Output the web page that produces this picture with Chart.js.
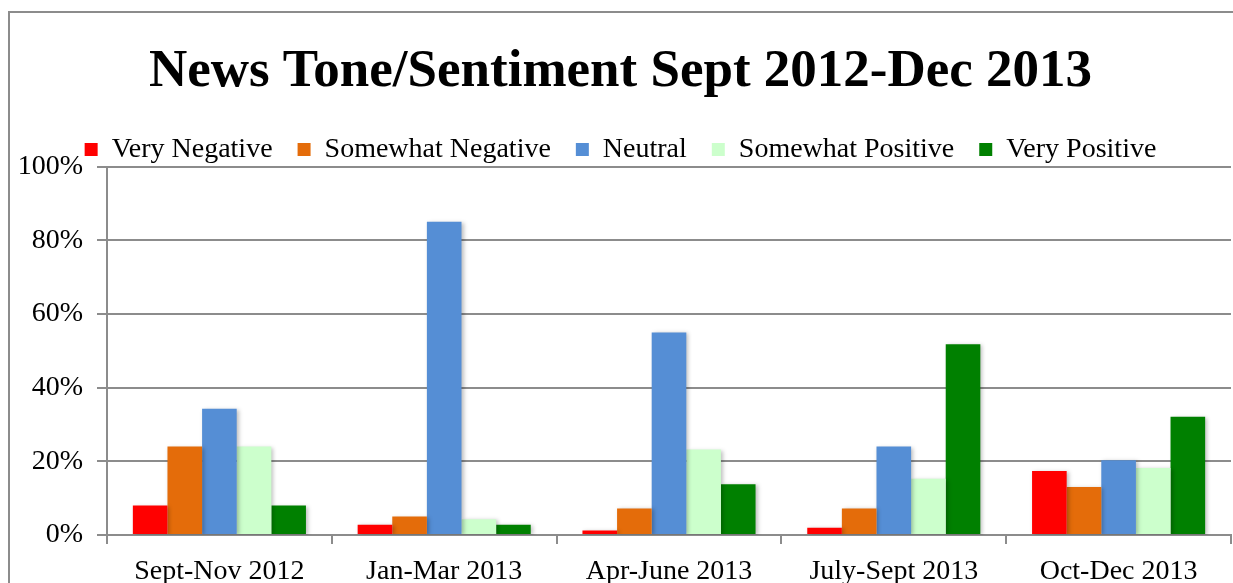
<!DOCTYPE html>
<html>
<head>
<meta charset="utf-8">
<script src="https://cdn.jsdelivr.net/npm/chart.js@4"></script>
<style>
    html, body { margin: 0; padding: 0; background: #fff; overflow: hidden; }
    #frame {
        position: absolute;
        left: 8px;
        top: 11px;
        width: 1240px;
        height: 600px;
        border: 2px solid #8c8c8c;
        background: #fff;
    }
    #chart { display: block; }
</style>
</head>
<body>
<div id="frame"><canvas id="chart" width="1240" height="580"></canvas></div>
<script>
const categories = ['Sept-Nov 2012', 'Jan-Mar 2013', 'Apr-June 2013', 'July-Sept 2013', 'Oct-Dec 2013'];
const veryNegative = [8, 2.8, 1.2, 2, 17.4];
const somewhatNegative = [24, 5, 7.2, 7.2, 13];
const neutral = [34.3, 85, 55, 24, 20.3];
const somewhatPositive = [24, 4.3, 23.2, 15.3, 18.2];
const veryPositive = [8, 2.8, 13.8, 51.8, 32.1];
const yTicks = [0, 20, 40, 60, 80, 100];

const serif = "'Liberation Serif', 'DejaVu Serif', serif";
const gridGrey = '#8c8c8c';

// soft Excel-like shadow behind the bars
const barShadow = {
    id: 'barShadow',
    beforeDatasetsDraw(chart) {
        const ctx = chart.ctx;
        ctx.save();
        ctx.shadowColor = 'rgba(0,0,0,0.25)';
        ctx.shadowBlur = 4;
        ctx.shadowOffsetX = 2;
        ctx.shadowOffsetY = 1;
    },
    afterDatasetsDraw(chart) {
        chart.ctx.restore();
    },
};

// the legend row sits closer to the plot than chart.js leaves by default
const tightLegend = {
    id: 'tightLegend',
    beforeLayout(chart) {
        const lg = chart.legend;
        if (!lg || lg._tight) return;
        const fit = lg.fit;
        lg.fit = function () {
            fit.call(this);
            this.height -= 7;
        };
        lg._tight = true;
    },
};

function series(label, data, color) {
    return {
        label: label,
        data: data,
        backgroundColor: color,
        borderWidth: 0,
        barPercentage: 1.0,
        categoryPercentage: 0.77,
    };
}

new Chart(document.getElementById('chart'), {
    type: 'bar',
    data: {
        labels: categories,
        datasets: [
            series('Very Negative', veryNegative, '#ff0000'),
            series('Somewhat Negative', somewhatNegative, '#e46c0a'),
            series('Neutral', neutral, '#558ed5'),
            series('Somewhat Positive', somewhatPositive, '#ccffcc'),
            series('Very Positive', veryPositive, '#008000'),
        ],
    },
    plugins: [barShadow, tightLegend],
    options: {
        responsive: false,
        animation: false,
        layout: { padding: { left: 0, right: 19, top: 28, bottom: 0 } },
        plugins: {
            title: {
                display: true,
                text: 'News Tone/Sentiment Sept 2012-Dec 2013',
                color: '#000',
                font: { family: serif, size: 53, weight: 'bold' },
                padding: { top: 0, bottom: 6 },
            },
            legend: {
                position: 'top',
                align: 'center',
                labels: {
                    color: '#000',
                    font: { family: serif, size: 28 },
                    boxWidth: 13,
                    boxHeight: 13,
                    padding: 25,
                },
            },
            tooltip: { enabled: false },
        },
        scales: {
            x: {
                grid: {
                    display: true,
                    drawOnChartArea: false,
                    drawTicks: true,
                    tickLength: 9,
                    color: gridGrey,
                    lineWidth: 2,
                    offset: true,
                },
                border: { color: gridGrey, width: 2 },
                ticks: {
                    color: '#000',
                    font: { family: serif, size: 28 },
                    padding: 11,
                    maxRotation: 0,
                },
                afterFit(scale) { scale.height = 58; },
            },
            y: {
                min: 0,
                max: 100,
                afterBuildTicks(scale) {
                    scale.ticks = yTicks.map(v => ({ value: v }));
                },
                grid: {
                    color: gridGrey,
                    lineWidth: 2,
                    tickLength: 10,
                },
                border: { color: gridGrey, width: 2 },
                ticks: {
                    color: '#000',
                    font: { family: serif, size: 28 },
                    padding: 14,
                    callback: v => v + '%',
                },
                afterFit(scale) { scale.width = 97; },
            },
        },
    },
});
</script>
</body>
</html>
